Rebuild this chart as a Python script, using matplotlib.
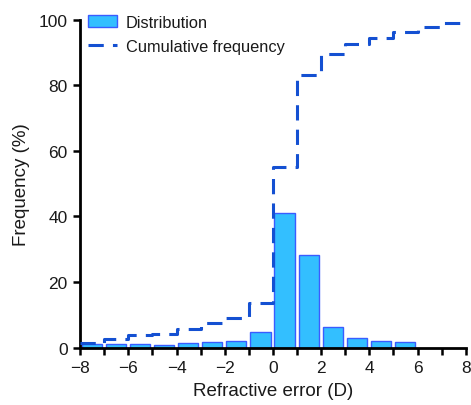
import matplotlib
matplotlib.use("Agg")
import matplotlib.pyplot as plt
import numpy as np

# Data
bin_left = [-8, -7, -6, -5, -4, -3, -2, -1, 0, 1, 2, 3, 4, 5]
distribution = [1.1, 1.0, 1.2, 0.7, 1.3, 1.6, 2.1, 4.6, 41.0, 28.3, 6.2, 3.0, 1.9, 1.8]
cum_x = [-8, -7, -6, -5, -4, -3, -2, -1, 0, 1, 2, 3, 4, 5, 6, 7, 8]
cum_y = [1.5, 2.5, 3.7, 4.1, 5.6, 7.4, 9.1, 13.7, 54.9, 83.0, 89.6, 92.6, 94.4, 96.1, 97.6, 98.8, 98.8]
xticks = [-8, -6, -4, -2, 0, 2, 4, 6, 8]
yticks = [0, 20, 40, 60, 80, 100]

plt.rcParams['font.family'] = ['Liberation Sans', 'DejaVu Sans']
plt.rcParams['axes.unicode_minus'] = True

fig = plt.figure(figsize=(4.71, 4.06), dpi=100)
ax = fig.add_axes([0.170, 0.1416, 0.819, 0.8079])

bar_color = '#33BFFF'
edge_color = '#3A5CFF'
line_color = '#1450D2'
text_color = '#1a1a1a'

bars = ax.bar(np.array(bin_left) + 0.06, distribution, width=0.84, align='edge',
              color=bar_color, edgecolor=edge_color, linewidth=1.0,
              label='Distribution', zorder=2)
line, = ax.step(cum_x, cum_y, where='post', color=line_color, linewidth=2.2,
                linestyle=(0, (5, 3)), label='Cumulative frequency', zorder=3)

ax.set_xlim(-8, 8)
ax.set_ylim(0, 100)
ax.set_xticks(xticks)
ax.set_xticks(np.arange(-7, 8, 2), minor=True)
ax.set_yticks(yticks)
ax.set_xticklabels([('\u2212' + str(abs(t))) if t < 0 else str(t) for t in xticks])

for s in ['top', 'right']:
    ax.spines[s].set_visible(False)
for s in ['left', 'bottom']:
    ax.spines[s].set_linewidth(2.0)
    ax.spines[s].set_color('black')

ax.tick_params(axis='both', which='major', direction='out', length=5, width=1.8,
               labelsize=12.5, color='black', labelcolor=text_color, pad=4)
ax.tick_params(axis='x', which='minor', direction='out', length=5, width=1.8)

ax.set_xlabel('Refractive error (D)', fontsize=13.5, labelpad=5, color=text_color)
ax.set_ylabel('Frequency (%)', fontsize=13.5, labelpad=6, color=text_color)

leg = ax.legend([bars, line], ['Distribution', 'Cumulative frequency'],
                loc='upper left', bbox_to_anchor=(-0.005, 1.045), frameon=False,
                fontsize=11.8, handlelength=1.75, handletextpad=0.55,
                borderaxespad=0.2, labelspacing=0.55)
for t in leg.get_texts():
    t.set_color(text_color)

fig.savefig('out.png', dpi=100)
